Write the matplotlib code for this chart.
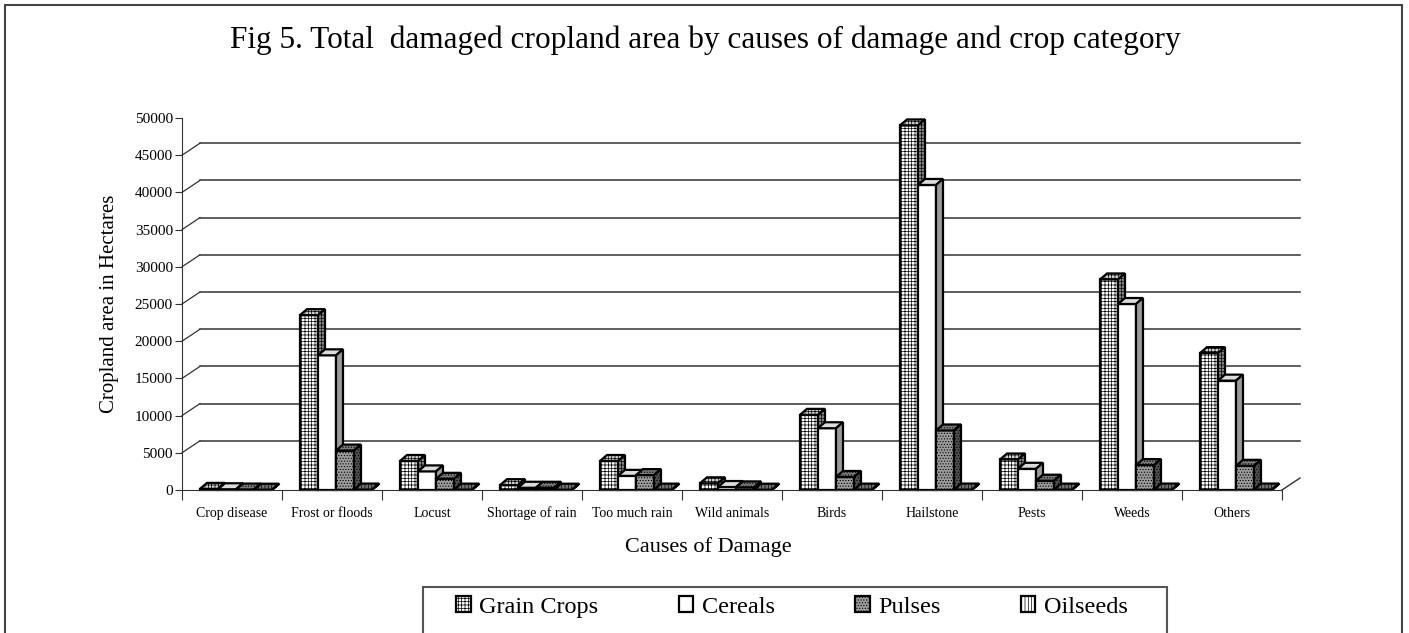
import matplotlib
matplotlib.use('Agg')
import matplotlib.pyplot as plt
from matplotlib.patches import Polygon, Rectangle, Patch

plt.rcParams['font.family'] = ['Liberation Serif', 'DejaVu Serif']
plt.rcParams['hatch.linewidth'] = 0.5

# data (hectares)
causes = ['Crop disease', 'Frost or floods', 'Locust', 'Shortage of rain', 'Too much rain',
          'Wild animals', 'Birds', 'Hailstone', 'Pests', 'Weeds', 'Others']
series = ['Grain Crops', 'Cereals', 'Pulses', 'Oilseeds']
grain_crops = [150, 23500, 3900, 650, 3900, 900, 10100, 49000, 4100, 28300, 18400]
cereals = [100, 18100, 2500, 300, 1900, 400, 8300, 41000, 2850, 25000, 14700]
pulses = [60, 5300, 1500, 300, 2000, 350, 1750, 8000, 1250, 3350, 3250]
oilseeds = [40, 60, 50, 40, 50, 40, 50, 60, 50, 60, 60]
y_ticks = list(range(0, 50001, 5000))

values = [grain_crops, cereals, pulses, oilseeds]

# (front colour, top colour, side colour, hatch) for each series
styles = [
    ('white', '#cfcfcf', '#8a8a8a', '+++++'),
    ('white', '#dcdcdc', '#9a9a9a', None),
    ('#9c9c9c', '#7a7a7a', '#505050', '......'),
    ('white', '#707070', '#505050', '|||||'),
]

fig = plt.figure(figsize=(14.09, 6.33), dpi=100)
ax = fig.add_axes([182 / 1409, 143 / 633, 1118 / 1409, 372 / 633])
n = len(causes)
wall_dx, wall_dy = 0.18, 1613      # depth of the back wall
bar_w, bar_dx, bar_dy = 0.18, 0.07, 806   # bar width and bar depth
ax.set_xlim(0, n + wall_dx)
ax.set_ylim(0, 50000)

# back wall gridlines and the little diagonals to the axis
for v in y_ticks[1:-1]:
    ax.plot([wall_dx, n + wall_dx], [v + wall_dy, v + wall_dy], color='#333333', lw=1.1,
            zorder=0.5, clip_on=False)
    ax.plot([0, wall_dx], [v, v + wall_dy], color='#333333', lw=0.9, zorder=0.5, clip_on=False)
ax.plot([n, n + wall_dx], [0, wall_dy], color='#333333', lw=1.0, zorder=0.5, clip_on=False)

# pseudo 3d bars
for i in range(n):
    for k, vals in enumerate(values):
        h = vals[i]
        x0 = i + wall_dx + k * bar_w
        front, top, side, hatch = styles[k]
        kw = dict(edgecolor='black', lw=1.6, joinstyle='miter', hatch=hatch, zorder=2, clip_on=False)
        ax.add_patch(Rectangle((x0, 0), bar_w, h, facecolor=front, **kw))
        ax.add_patch(Polygon([(x0, h), (x0 + bar_w, h), (x0 + bar_w + bar_dx, h + bar_dy),
                              (x0 + bar_dx, h + bar_dy)], closed=True, facecolor=top, **kw))
        ax.add_patch(Polygon([(x0 + bar_w, 0), (x0 + bar_w + bar_dx, bar_dy),
                              (x0 + bar_w + bar_dx, h + bar_dy), (x0 + bar_w, h)],
                             closed=True, facecolor=side, **kw))

# axes styling
for s in ['top', 'right']:
    ax.spines[s].set_visible(False)
ax.spines['bottom'].set_bounds(0, n)
ax.spines['left'].set_color('#333333')
ax.spines['bottom'].set_color('#333333')
ax.set_yticks(y_ticks)
ax.set_yticklabels([str(v) for v in y_ticks], fontsize=11)
ax.tick_params(axis='y', direction='out', length=5, pad=1.5, color='#333333')
ax.set_xticks(range(n + 1))
ax.set_xticklabels([])
ax.set_xticks([i + 0.5 for i in range(n)], minor=True)
ax.set_xticklabels(causes, minor=True, fontsize=10)
ax.tick_params(axis='x', which='major', direction='out', length=7, color='#333333')
ax.tick_params(axis='x', which='minor', length=0, pad=12)
ax.patch.set_visible(False)

fig.text(705 / 1409, 1 - 40 / 633, 'Fig 5. Total  damaged cropland area by causes of damage and crop category',
         ha='center', va='center', fontsize=22.5)
fig.text(110 / 1409, 1 - 304 / 633, 'Cropland area in Hectares', rotation=90,
         ha='center', va='center', fontsize=15)
fig.text(708 / 1409, 1 - 547 / 633, 'Causes of Damage', ha='center', va='center', fontsize=16)

# legend
handles = [Patch(facecolor=styles[k][0], edgecolor='black', hatch=styles[k][3], lw=1.6)
           for k in range(len(series))]
fig.legend(handles, series, loc='center', bbox_to_anchor=(792 / 1409, 1 - 607 / 633), ncol=4,
           frameon=False, fontsize=17.5, handlelength=0.6, handleheight=0.6,
           handletextpad=0.35, columnspacing=3.3)
fig.add_artist(Rectangle((423 / 1409, -0.1), (1167 - 423) / 1409, 0.1 + 46 / 633,
                         transform=fig.transFigure, fill=False, edgecolor='#555555', lw=1.5))

# outer frame of the figure
fig.add_artist(Rectangle((5 / 1409, -0.1), 1397 / 1409, 1.1 - 5 / 633,
                         transform=fig.transFigure, fill=False, edgecolor='#444444', lw=1.5))

fig.savefig('out.png', dpi=100)
